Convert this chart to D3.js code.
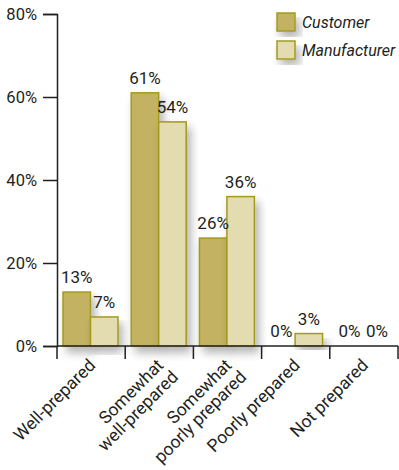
<!DOCTYPE html>
<html>
<head>
<meta charset="utf-8">
<script src="https://cdn.jsdelivr.net/npm/d3@7"></script>
<style>
  body { margin: 0; background: #fff; }
  svg text { font-family: Roboto, "Liberation Sans", sans-serif; fill: #231f20; }
</style>
</head>
<body>
<svg id="chart"></svg>
<script>
var categories = [["Well-prepared"], ["Somewhat", "well-prepared"], ["Somewhat", "poorly prepared"], ["Poorly prepared"], ["Not prepared"]];
var seriesNames = ["Customer", "Manufacturer"];
var customer = [13, 61, 26, 0, 0];
var manufacturer = [7, 54, 36, 3, 0];
var yTicks = [0, 20, 40, 60, 80];

var colors = { Customer: "#c2b262", Manufacturer: "#e2dcb0" };
var strokeCol = "#a39a1f";

var width = 399, height = 470;
var margin = { left: 57, right: 0, top: 14, bottom: 124 };

var svg = d3.select("#chart").attr("width", width).attr("height", height);

// soft shadow under the bars
var defs = svg.append("defs");
var f = defs.append("filter").attr("id", "shadow")
    .attr("x", "-40%").attr("y", "-10%").attr("width", "180%").attr("height", "140%");
f.append("feGaussianBlur").attr("in", "SourceAlpha").attr("stdDeviation", 5).attr("result", "b");
f.append("feOffset").attr("in", "b").attr("dx", 4).attr("dy", 6).attr("result", "o");
f.append("feComponentTransfer").attr("in", "o").attr("result", "s")
  .append("feFuncA").attr("type", "linear").attr("slope", 0.3);
var m = f.append("feMerge");
m.append("feMergeNode").attr("in", "s");
m.append("feMergeNode").attr("in", "SourceGraphic");

var x0 = d3.scaleBand()
    .domain(d3.range(categories.length))
    .range([margin.left, width - 1])
    .paddingInner(0).paddingOuter(0);

var x1 = d3.scaleBand()
    .domain(seriesNames)
    .range([6, 61]);

var y = d3.scaleLinear().domain([0, 80]).range([height - margin.bottom, margin.top]);

var data = categories.map(function(c, i) {
  return { i: i, values: [
    { key: "Customer", v: customer[i] },
    { key: "Manufacturer", v: manufacturer[i] }
  ]};
});

// bars
var groups = svg.append("g").selectAll("g")
  .data(data).enter().append("g")
  .attr("transform", function(d) { return "translate(" + x0(d.i) + ",0)"; });

groups.selectAll("rect")
  .data(function(d) { return d.values.filter(function(v) { return v.v > 0; }); })
  .enter().append("rect")
  .attr("x", function(d) { return x1(d.key); })
  .attr("y", function(d) { return y(d.v); })
  .attr("width", x1.bandwidth())
  .attr("height", function(d) { return y(0) - y(d.v); })
  .attr("fill", function(d) { return colors[d.key]; })
  .attr("stroke", strokeCol)
  .attr("stroke-width", 1.5)
  .attr("filter", "url(#shadow)");

groups.selectAll("text.val")
  .data(function(d) { return d.values; })
  .enter().append("text")
  .attr("class", "val")
  .attr("x", function(d) { return x1(d.key) + x1.bandwidth() / 2; })
  .attr("y", function(d) { return y(d.v) - 9; })
  .attr("text-anchor", "middle")
  .style("font-size", "17px")
  .text(function(d) { return d.v + "%"; });

// y axis
var yAxis = svg.append("g")
  .attr("transform", "translate(" + margin.left + ",0)")
  .call(d3.axisLeft(y).tickValues(yTicks).tickSize(14).tickPadding(6).tickFormat(function(d) { return d + "%"; }));
yAxis.select(".domain").attr("stroke", "#231f20").attr("stroke-width", 1.5);
yAxis.selectAll(".tick line").attr("stroke", "#231f20").attr("stroke-width", 1.5);
yAxis.selectAll(".tick text").style("font-size", "16.5px").attr("dy", "0.35em");

// x axis
var xAxisG = svg.append("g").attr("transform", "translate(0," + y(0) + ")");
xAxisG.append("line").attr("x1", margin.left).attr("x2", width - 1)
  .attr("stroke", "#231f20").attr("stroke-width", 1.5);
var edges = d3.range(categories.length + 1).map(function(i) {
  return i < categories.length ? x0(i) : x0(i - 1) + x0.bandwidth();
});
xAxisG.selectAll("line.tk").data(edges).enter().append("line")
  .attr("class", "tk")
  .attr("x1", function(d) { return d; }).attr("x2", function(d) { return d; })
  .attr("y1", 0).attr("y2", 13)
  .attr("stroke", "#231f20").attr("stroke-width", 1.5);

var labels = xAxisG.selectAll("text.cat").data(categories).enter().append("text")
  .attr("class", "cat")
  .attr("text-anchor", "end")
  .style("font-size", "17.5px")
  .attr("transform", function(d, i) {
    var cx = x0(i) + x0.bandwidth() / 2 + 1;
    return "translate(" + cx + ",16) rotate(-45)";
  });
labels.selectAll("tspan").data(function(d) {
    return d.map(function(s, k) { return { s: s, k: k }; });
  }).enter().append("tspan")
  .attr("x", function(d) { return d.k === 0 ? 0 : 2; })
  .attr("dy", function(d) { return d.k === 0 ? "0.35em" : "1.06em"; })
  .text(function(d) { return d.s; });

// legend
var legend = svg.append("g").attr("transform", "translate(277,13)");
var li = legend.selectAll("g").data(seriesNames).enter().append("g")
  .attr("transform", function(d, i) { return "translate(0," + (i * 28) + ")"; });
li.append("rect").attr("width", 18).attr("height", 18)
  .attr("fill", function(d) { return colors[d]; })
  .attr("stroke", strokeCol).attr("stroke-width", 1.5)
  .attr("filter", "url(#shadow)");
li.append("text").attr("x", 25).attr("y", 15)
  .style("font-size", "16px").style("font-style", "italic")
  .text(function(d) { return d; });
</script>
</body>
</html>
